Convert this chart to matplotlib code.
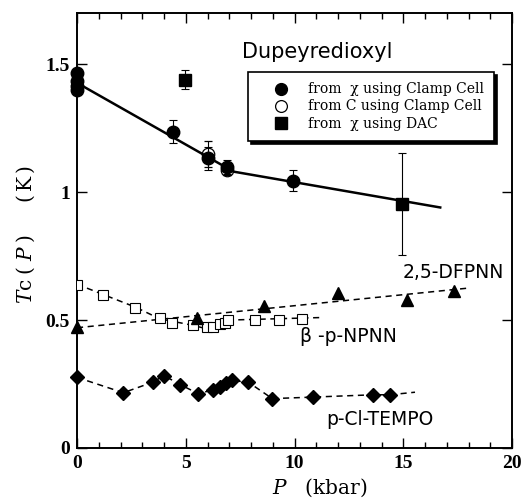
import matplotlib
matplotlib.use('Agg')
import matplotlib.pyplot as plt
from matplotlib.lines import Line2D

# ---- Dupeyredioxyl ----
chi_cc_P = [0, 0, 0, 0, 4.4, 6.0, 6.9, 9.95]
chi_cc_Tc = [1.465, 1.435, 1.415, 1.400, 1.235, 1.133, 1.098, 1.045]
chi_cc_err = [0, 0, 0, 0, 0.045, 0.045, 0.028, 0.04]
c_cc_P = [6.0, 6.9]
c_cc_Tc = [1.15, 1.085]
c_cc_err = [0.05, 0.02]
dac_P = [4.97, 14.95]
dac_Tc = [1.44, 0.953]
dac_err = [0.037, 0.2]
fit_P = [0, 7.2, 16.7]
fit_Tc = [1.427, 1.08, 0.94]

# ---- beta-p-NPNN ----
npnn_P = [0, 1.18, 2.67, 3.82, 4.35, 5.35, 5.96, 6.27, 6.57, 6.8, 6.96, 8.2, 9.29, 10.36]
npnn_Tc = [0.638, 0.597, 0.548, 0.51, 0.49, 0.481, 0.473, 0.473, 0.483, 0.49, 0.499, 0.502, 0.502, 0.505]
npnn_guide_P = [0, 1.2, 2.7, 3.8, 5.3, 6.0, 7.0, 11.3]
npnn_guide_Tc = [0.64, 0.60, 0.55, 0.505, 0.48, 0.465, 0.50, 0.51]

# ---- 2,5-DFPNN ----
dfpnn_P = [0, 5.5, 8.6, 12.0, 15.16, 17.35]
dfpnn_Tc = [0.473, 0.509, 0.554, 0.606, 0.58, 0.612]
dfpnn_guide_P = [0, 18.0]
dfpnn_guide_Tc = [0.47, 0.625]

# ---- p-Cl-TEMPO ----
tempo_P = [0, 2.13, 3.48, 4.0, 4.74, 5.58, 6.27, 6.57, 6.85, 7.11, 7.88, 8.98, 10.87, 13.63, 14.39]
tempo_Tc = [0.276, 0.216, 0.257, 0.283, 0.248, 0.212, 0.228, 0.24, 0.253, 0.264, 0.257, 0.193, 0.199, 0.208, 0.208]
tempo_guide_P = [0, 2.13, 3.48, 4.0, 4.74, 5.58, 6.27, 7.11, 7.88, 8.98, 10.87, 13.63, 14.39, 15.54]
tempo_guide_Tc = [0.276, 0.216, 0.257, 0.283, 0.248, 0.212, 0.228, 0.264, 0.257, 0.193, 0.199, 0.208, 0.208, 0.218]

x_ticks = [0, 5, 10, 15, 20]
x_ticklabels = ['0', '5', '10', '15', '20']
y_ticks = [0, 0.5, 1, 1.5]
y_ticklabels = ['0', '0.5', '1', '1.5']

serif = 'Liberation Serif'
sans = 'DejaVu Sans'

fig = plt.figure(figsize=(5.23, 5.01), dpi=100)
ax = fig.add_axes([77/523, 1-448/501, 435/523, 435/501])
ax.set_xlim(0, 20)
ax.set_ylim(0, 1.70)

dash = (0, (4, 3))
# guide lines
ax.plot(fit_P, fit_Tc, color='black', lw=1.8, zorder=2)
ax.plot(npnn_guide_P, npnn_guide_Tc, color='black', lw=1.1, linestyle=dash, zorder=1)
ax.plot(dfpnn_guide_P, dfpnn_guide_Tc, color='black', lw=1.1, linestyle=dash, zorder=1)
ax.plot(tempo_guide_P, tempo_guide_Tc, color='black', lw=1.1, linestyle=dash, zorder=1)

# data
ax.errorbar(chi_cc_P, chi_cc_Tc, yerr=chi_cc_err, fmt='o', color='black', ms=9,
            elinewidth=0.8, capsize=3, capthick=0.8, zorder=4, clip_on=False)
ax.errorbar(c_cc_P, c_cc_Tc, yerr=c_cc_err, fmt='o', mfc='none', mec='black', ecolor='black',
            ms=9, mew=0.9, elinewidth=0.8, capsize=3, capthick=0.8, zorder=3)
ax.errorbar(dac_P, dac_Tc, yerr=dac_err, fmt='s', color='black', ms=8,
            elinewidth=0.8, capsize=3, capthick=0.8, zorder=4)
ax.plot(npnn_P, npnn_Tc, 's', mfc='white', mec='black', mew=0.8, ms=7.5, zorder=3, linestyle='none')
ax.plot(dfpnn_P, dfpnn_Tc, '^', color='black', ms=9, zorder=4, linestyle='none', clip_on=False)
ax.plot(tempo_P, tempo_Tc, 'D', color='black', ms=7.5, zorder=4, linestyle='none', clip_on=False)

# axes styling
for s in ax.spines.values():
    s.set_linewidth(1.4)
ax.set_xticks(x_ticks)
ax.set_xticklabels(x_ticklabels)
ax.set_xticks(range(0, 21), minor=True)
ax.set_yticks(y_ticks)
ax.set_yticklabels(y_ticklabels)
ax.tick_params(which='both', direction='in', top=True, right=True)
ax.tick_params(which='major', length=7, width=1.0, pad=5)
ax.tick_params(which='minor', length=4, width=1.0)
for lab in ax.get_xticklabels() + ax.get_yticklabels():
    lab.set_fontfamily(serif)
    lab.set_fontweight('bold')
    lab.set_fontsize(14)

fig.text(26/523, 1-234/501, r'$\mathit{T}\mathrm{c}\;(\;\mathit{P}\;)\quad\ \ (\,\mathrm{K}\,)$',
         rotation=90, ha='center', va='center', fontsize=14.5, math_fontfamily='dejavuserif')
fig.text(320/523, 1-488/501, r'$\mathit{P}\ \ \ (\mathrm{kbar})$', ha='center', va='center',
         fontsize=14.5, math_fontfamily='dejavuserif')

# annotations
ax.text(11.03, 1.547, 'Dupeyredioxyl', fontfamily=sans, fontsize=15, ha='center', va='center')
ax.text(17.3, 0.6875, '2,5-DFPNN', fontfamily=sans, fontsize=13.5, ha='center', va='center')
ax.text(12.46, 0.435, '\u03b2 -p-NPNN', fontfamily=sans, fontsize=13.5, ha='center', va='center')
ax.text(13.93, 0.11, 'p-Cl-TEMPO', fontfamily=sans, fontsize=13.5, ha='center', va='center')

handles = [
    Line2D([], [], marker='o', color='black', ls='none', ms=8.5),
    Line2D([], [], marker='o', mfc='none', mec='black', ls='none', ms=8.5, mew=0.9),
    Line2D([], [], marker='s', color='black', ls='none', ms=8),
]
labels = ['from  \u03c7 using Clamp Cell', 'from C using Clamp Cell', 'from  \u03c7 using DAC']
leg = ax.legend(handles, labels, loc='upper left', bbox_to_anchor=((248-77)/435, (448-72)/435),
                borderaxespad=0, frameon=True, fancybox=False,
                shadow={'color': 'black', 'alpha': 1, 'ox': 2.2, 'oy': -2.2},
                prop={'family': 'DejaVu Serif', 'size': 10}, handletextpad=0.35, labelspacing=0.22,
                borderpad=0.75, handlelength=3.2)
leg.get_frame().set_edgecolor('black')
leg.get_frame().set_linewidth(1.2)

fig.savefig('out.png', dpi=100)
